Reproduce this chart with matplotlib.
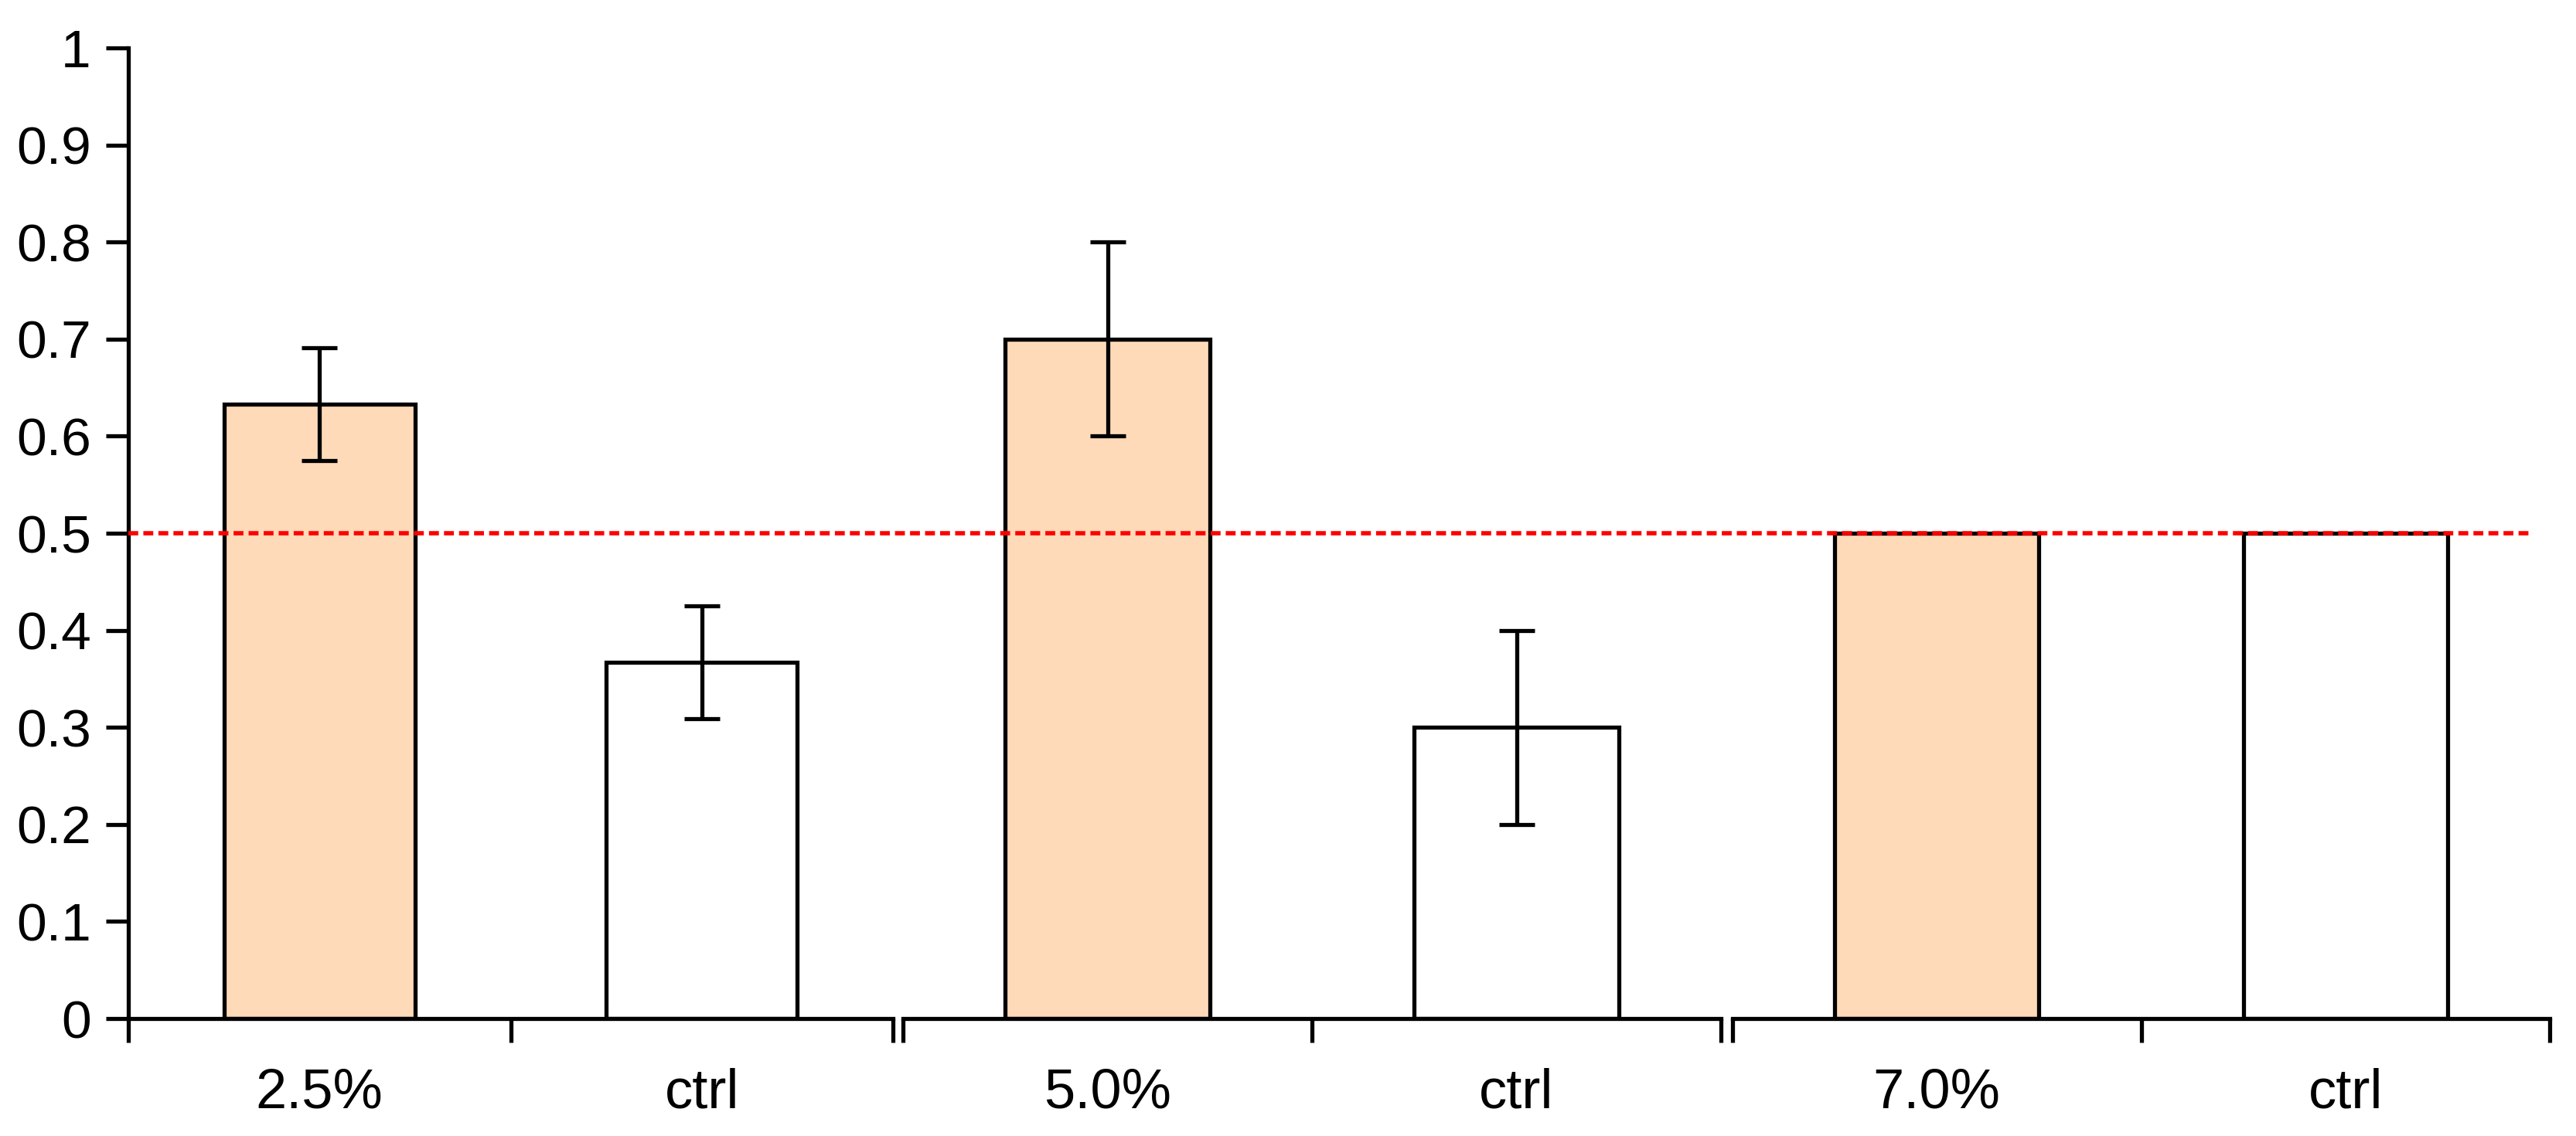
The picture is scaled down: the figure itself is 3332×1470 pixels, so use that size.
import matplotlib
matplotlib.use("Agg")
import matplotlib.pyplot as plt
import numpy as np

# ---- data ----
groups = ["2.5%", "5.0%", "7.0%"]
sub_labels = ["ctrl"]
treat_means = [0.633, 0.700, 0.500]
treat_err = [0.058, 0.100, 0.0]
ctrl_means = [0.367, 0.300, 0.500]
ctrl_err = [0.058, 0.100, 0.0]
ref_level = 0.5
yticks = [0, 0.1, 0.2, 0.3, 0.4, 0.5, 0.6, 0.7, 0.8, 0.9, 1.0]

plt.rcParams['font.family'] = ['Liberation Sans', 'DejaVu Sans']

W, H = 3332, 1470
DPI = 200
fig = plt.figure(figsize=(W / DPI, H / DPI), dpi=DPI)

# pixel layout of the three group panels
y_top_px, y_bot_px = 62, 1318
panels_px = [(166, 1155), (1168, 2226), (2241, 3298)]

def rect(x0, x1):
    return [x0 / W, (H - y_bot_px) / H, (x1 - x0) / W, (y_bot_px - y_top_px) / H]

lw = 1.9
peach = "#FFDAB9"
axes = []
for i, (x0, x1) in enumerate(panels_px):
    ax = fig.add_axes(rect(x0, x1))
    axes.append(ax)
    ax.set_xlim(0, 1)
    ax.set_ylim(0, 1)
    pos = [0.25, 0.75]
    means = [treat_means[i], ctrl_means[i]]
    errs = [treat_err[i], ctrl_err[i]]
    colors = [peach, "white"]
    ax.bar(pos, means, width=0.25, color=colors, edgecolor="black",
           linewidth=lw, zorder=2)
    for p, m, e in zip(pos, means, errs):
        if e > 0:
            ax.errorbar(p, m, yerr=e, fmt="none", ecolor="black",
                        elinewidth=lw, capsize=8.2, capthick=lw, zorder=3)
    for s in ["top", "right"]:
        ax.spines[s].set_visible(False)
    ax.spines["bottom"].set_linewidth(lw)
    ax.spines["left"].set_linewidth(lw)
    # major ticks: group edges and centre, no labels
    ax.set_xticks([0, 0.5, 1])
    ax.set_xticklabels([])
    ax.tick_params(axis="x", which="major", direction="out", length=11.2,
                   width=lw, color="black")
    # minor ticks: category labels
    ax.set_xticks(pos, minor=True)
    ax.set_xticklabels([groups[i], sub_labels[0]], minor=True)
    ax.tick_params(axis="x", which="minor", length=0, pad=23, labelsize=26)
    if i == 0:
        ax.set_yticks(yticks)
        ax.set_yticklabels([f"{v:g}" for v in yticks])
        ax.tick_params(axis="y", direction="out", length=10.4, width=lw,
                       labelsize=25, pad=7)
    else:
        ax.spines["left"].set_visible(False)
        ax.set_yticks([])
    ax.patch.set_alpha(0)

# overlay axes for the reference line across all panels
ov = fig.add_axes(rect(panels_px[0][0], panels_px[-1][1]), frameon=False)
ov.set_xlim(0, 1)
ov.set_ylim(0, 1)
ov.axis("off")
ov.axhline(ref_level, xmin=0, xmax=0.993, color="red", linewidth=2.0,
           dashes=(2.3, 1.2), zorder=5)

fig.savefig("out.png", dpi=DPI)
